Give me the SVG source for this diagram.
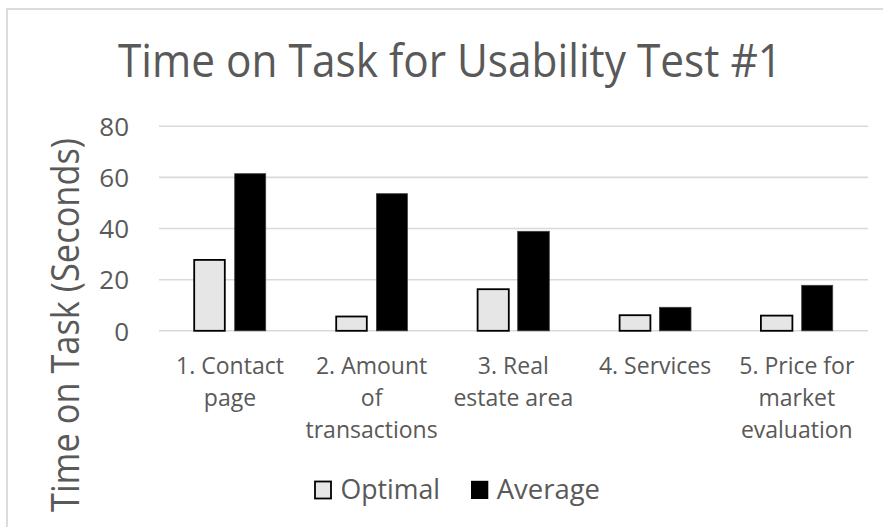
<svg xmlns="http://www.w3.org/2000/svg" width="883" height="527" viewBox="0 0 883 527">
  <style>
    .txt { font-family: "Open Sans", "Noto Sans", "Liberation Sans", sans-serif; fill: #595959; }
    .grid { stroke: #d9d9d9; stroke-width: 1.6; fill: none; }
    .opt { fill: #e6e6e6; stroke: #000; stroke-width: 1.8; }
    .avg { fill: #000; stroke: #3f3f3f; stroke-width: 0.8; }
    .tick { font-size: 26px; text-anchor: end; }
    .cat { font-size: 23px; text-anchor: middle; }
    .leg { font-size: 28px; }
  </style>

  <!-- chart area frame -->
  <rect x="0" y="0" width="883" height="527" fill="#fff"/>
  <rect x="7" y="9" width="900" height="540" fill="none" stroke="#d9d9d9" stroke-width="1.8"/>

  <!-- title -->
  <text class="txt" x="450" y="77" font-size="45" text-anchor="middle" textLength="664" lengthAdjust="spacingAndGlyphs">Time on Task for Usability Test #1</text>

  <!-- value axis title -->
  <text class="txt" transform="translate(79 325) rotate(-90)" x="0" y="0" font-size="38" text-anchor="middle" textLength="374" lengthAdjust="spacingAndGlyphs">Time on Task (Seconds)</text>

  <!-- gridlines and value axis labels -->
  <g id="grid">
    <line class="grid" x1="159" y1="126.3" x2="868" y2="126.3"/>
    <line class="grid" x1="159" y1="177.4" x2="868" y2="177.4"/>
    <line class="grid" x1="159" y1="228.5" x2="868" y2="228.5"/>
    <line class="grid" x1="159" y1="279.7" x2="868" y2="279.7"/>
    <line class="grid" x1="159" y1="330.8" x2="868" y2="330.8"/>
    <text class="txt tick" x="129" y="136">80</text>
    <text class="txt tick" x="129" y="187.1">60</text>
    <text class="txt tick" x="129" y="238.2">40</text>
    <text class="txt tick" x="129" y="289.4">20</text>
    <text class="txt tick" x="129" y="340.5">0</text>
  </g>

  <!-- 1. Contact page -->
  <g id="task1">
    <rect class="opt" x="194.2" y="259.9" width="30.6" height="70.9"/>
    <rect class="avg" x="234.7" y="173.7" width="31" height="157.1"/>
    <text class="txt cat" x="230" y="374">1. Contact</text>
    <text class="txt cat" x="230" y="406">page</text>
  </g>

  <!-- 2. Amount of transactions -->
  <g id="task2">
    <rect class="opt" x="336.2" y="316.5" width="30.6" height="14.3"/>
    <rect class="avg" x="376.4" y="193.7" width="31" height="137.1"/>
    <text class="txt cat" x="371.6" y="374">2. Amount</text>
    <text class="txt cat" x="371.6" y="406">of</text>
    <text class="txt cat" x="371.6" y="438">transactions</text>
  </g>

  <!-- 3. Real estate area -->
  <g id="task3">
    <rect class="opt" x="477.6" y="289.2" width="31.2" height="41.6"/>
    <rect class="avg" x="517.7" y="231.3" width="31.6" height="99.5"/>
    <text class="txt cat" x="513.3" y="374">3. Real</text>
    <text class="txt cat" x="513.3" y="406">estate area</text>
  </g>

  <!-- 4. Services -->
  <g id="task4">
    <rect class="opt" x="619.6" y="315.2" width="30.8" height="15.6"/>
    <rect class="avg" x="659.4" y="307.3" width="31.6" height="23.5"/>
    <text class="txt cat" x="655.1" y="374">4. Services</text>
  </g>

  <!-- 5. Price for market evaluation -->
  <g id="task5">
    <rect class="opt" x="760.9" y="315.6" width="31.5" height="15.2"/>
    <rect class="avg" x="801.7" y="285.3" width="31" height="45.5"/>
    <text class="txt cat" x="796.8" y="374">5. Price for</text>
    <text class="txt cat" x="796.8" y="406">market</text>
    <text class="txt cat" x="796.8" y="438">evaluation</text>
  </g>

  <!-- legend -->
  <g id="legend">
    <rect class="opt" x="315" y="481.5" width="16" height="17" stroke-width="1.5"/>
    <text class="txt leg" x="340.5" y="499" textLength="99.5" lengthAdjust="spacingAndGlyphs">Optimal</text>
    <rect x="471" y="480.8" width="17.3" height="18.2" fill="#000"/>
    <text class="txt leg" x="496.7" y="499" textLength="103.3" lengthAdjust="spacingAndGlyphs">Average</text>
  </g>
</svg>
